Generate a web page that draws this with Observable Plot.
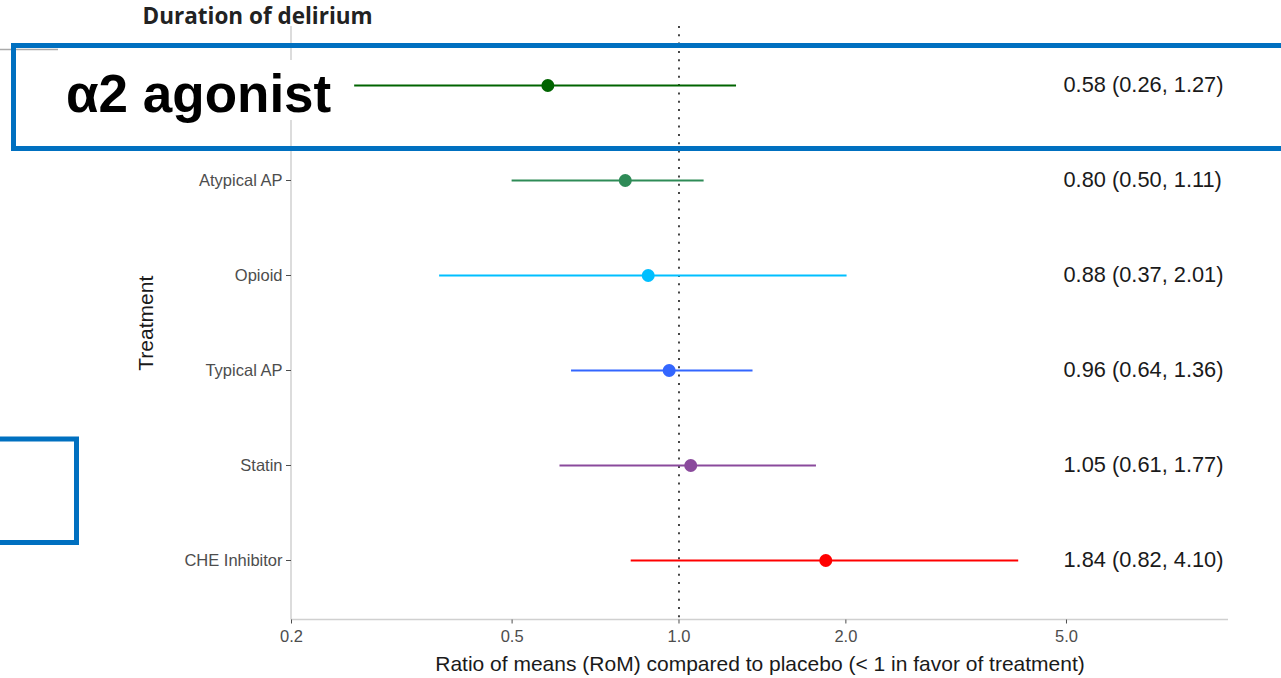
<!DOCTYPE html>
<html>
<head>
<meta charset="utf-8">
<script src="https://cdn.jsdelivr.net/npm/d3@7"></script>
<script src="https://cdn.jsdelivr.net/npm/@observablehq/plot@0.6"></script>
<style>
  html, body { margin: 0; padding: 0; background: #fff; }
  #chart svg { display: block; }
</style>
</head>
<body>
<div id="chart"></div>
<script>
// Ratio of means for the duration of delirium, by treatment, versus placebo
const categories = ["α2 agonist", "Atypical AP", "Opioid", "Typical AP", "Statin", "CHE Inhibitor"];
const estimates  = [0.58, 0.80, 0.88, 0.96, 1.05, 1.84];
const lower      = [0.26, 0.50, 0.37, 0.64, 0.61, 0.82];
const upper      = [1.27, 1.11, 2.01, 1.36, 1.77, 4.10];
const colors     = ["#006400", "#2e8b57", "#00bfff", "#3366ff", "#8a4a9c", "#ff0000"];
const xTicks     = [0.2, 0.5, 1, 2, 5];
const xDomain    = [0.2, 9.8];
const nullValue  = 1;      // no difference from placebo
const labelAt    = 5;      // where the estimate text column starts
const highlighted = "α2 agonist";

const rows = categories.map((name, i) => ({
  name, est: estimates[i], lo: lower[i], hi: upper[i]
}));
const fmt = v => v.toFixed(2);

const chart = Plot.plot({
  width: 1281,
  height: 678,
  marginLeft: 291,
  marginRight: 53,
  marginTop: 26,
  marginBottom: 58.5,
  style: {fontFamily: "'Liberation Sans', Arial, sans-serif", background: "#fff", overflow: "visible"},
  x: {type: "log", domain: xDomain},
  y: {type: "point", domain: categories, padding: 0.6},
  color: {domain: categories, range: colors},
  marks: [
    // reference line at RoM = 1
    Plot.ruleX([nullValue], {stroke: "#333", strokeWidth: 1.8, strokeDasharray: "2,6.3"}),
    // confidence intervals
    Plot.ruleY(rows, {y: "name", x1: "lo", x2: "hi", stroke: "name", strokeWidth: 1.8}),
    // point estimates
    Plot.dot(rows, {x: "est", y: "name", fill: "name", r: 6.5}),
    // estimate (95% CI) text column
    Plot.text(rows, {
      x: () => labelAt, y: "name", dx: -3, textAnchor: "start",
      text: d => `${fmt(d.est)} (${fmt(d.lo)}, ${fmt(d.hi)})`,
      fontSize: 21.8, fill: "#1a1a1a"
    }),
    Plot.axisY({
      anchor: "left", ticks: categories.filter(c => c !== highlighted),
      tickSize: 5, tickPadding: 4, fontSize: 16.5, color: "#4d4d4d", label: null
    }),
    Plot.axisX({
      ticks: xTicks, tickFormat: d3.format(".1f"),
      tickSize: 4, tickPadding: 6, fontSize: 16.5, color: "#4d4d4d", label: null
    }),
    Plot.text(["Ratio of means (RoM) compared to placebo (< 1 in favor of treatment)"], {
      frameAnchor: "bottom", dy: 44, lineAnchor: "middle", textAnchor: "middle",
      fontSize: 21, fill: "#1a1a1a"
    }),
    Plot.text(["Treatment"], {
      frameAnchor: "left", dx: -145, rotate: -90, lineAnchor: "middle", textAnchor: "middle",
      fontSize: 21, fill: "#1a1a1a"
    }),
    Plot.text(["Duration of delirium"], {
      frameAnchor: "top-left", dx: -149, dy: -10, textAnchor: "start", lineAnchor: "middle",
      fontSize: 22.5, fontWeight: "bold", fontFamily: "'Open Sans', sans-serif", fill: "#222"
    })
  ]
});

document.getElementById("chart").appendChild(chart);

// axis lines of the panel, drawn under the marks
const svg = d3.select(chart);
const [x0, x1] = chart.scale("x").range;
const [y0, y1] = chart.scale("y").range;
const axisLines = svg.insert("g", ":first-child").attr("stroke", "#d0d0d0").attr("stroke-width", 1.5);
axisLines.append("line").attr("x1", x0).attr("x2", x0).attr("y1", y0).attr("y2", y1);
axisLines.append("line").attr("x1", x0).attr("x2", x1).attr("y1", y1).attr("y2", y1);

// callout highlighting the α2 agonist row
const yHi = chart.scale("y").apply(highlighted);
const callout = svg.append("g");
callout.append("line")
  .attr("x1", 0).attr("x2", 58).attr("y1", yHi - 35.5).attr("y2", yHi - 35.5)
  .attr("stroke", "#aaa").attr("stroke-width", 1.5);
callout.append("rect")
  .attr("x", 17).attr("y", yHi - 25).attr("width", 328).attr("height", 60)
  .attr("fill", "#fff");
callout.append("text")
  .attr("x", 66).attr("y", yHi + 27)
  .attr("text-anchor", "start")
  .attr("font-family", "'Liberation Sans', Arial, sans-serif")
  .attr("font-weight", "bold").attr("font-size", 53).attr("fill", "#000")
  .text(highlighted);
callout.append("rect")
  .attr("x", 13.5).attr("y", yHi - 39.5).attr("width", 1290).attr("height", 103)
  .attr("fill", "none").attr("stroke", "#0070c0").attr("stroke-width", 5);
// second, empty callout frame lower left
callout.append("rect")
  .attr("x", -20).attr("y", 439).attr("width", 96.5).attr("height", 103.5)
  .attr("fill", "none").attr("stroke", "#0070c0").attr("stroke-width", 5);
</script>
</body>
</html>
